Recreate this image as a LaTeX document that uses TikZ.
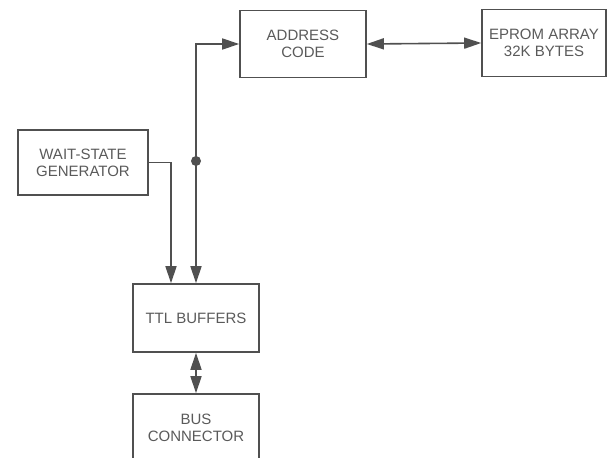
\documentclass[tikz,border=0pt]{standalone}
\usepackage{fontspec}
\setmainfont{Liberation Sans}
\usetikzlibrary{arrows.meta}
\definecolor{ink}{HTML}{505050}
\definecolor{txt}{HTML}{5A5A5A}
\tikzset{sc/.style={x=1pt,y=-1pt,line width=1.6pt,draw=ink,
    font=\fontsize{15}{17}\selectfont,text=txt},
  tip/.style={-{Triangle[length=17pt,width=11pt]}},
  tips/.style={{Triangle[length=17pt,width=11pt]}-{Triangle[length=17pt,width=11pt]}},
  blk/.style={draw=ink,line width=1.6pt,align=center,inner sep=0pt},
  dot/.style={circle,fill=ink,inner sep=0pt,minimum size=10pt}}

\begin{document}
\begin{tikzpicture}[sc]
  \useasboundingbox (0,0) rectangle (608,458);
  \node[blk,minimum width=126pt,minimum height=67pt] (addr) at (303,44){ADDRESS\\CODE};
  \node[blk,minimum width=124pt,minimum height=67pt] (eprom) at (544,43){EPROM ARRAY\\32K BYTES};
  \node[blk,minimum width=130pt,minimum height=65pt] (wait) at (83,162.5){WAIT-STATE\\GENERATOR};
  \node[blk,minimum width=126pt,minimum height=68pt] (ttl) at (196,318){TTL BUFFERS};
  \node[blk,minimum width=126pt,minimum height=68pt] (bus) at (196,428){BUS\\CONNECTOR};
  \node[dot] (tap) at (196,161){};
  \draw[ink,tips] (ttl.north) |- (addr.west);
  \draw[ink,tips] (addr.east) -- (eprom.west);
  \draw[ink,tip] (wait.east) -| ([xshift=-25pt]ttl.north);
  \draw[ink,tips] (ttl.south) -- (bus.north);
\end{tikzpicture}
\end{document}
